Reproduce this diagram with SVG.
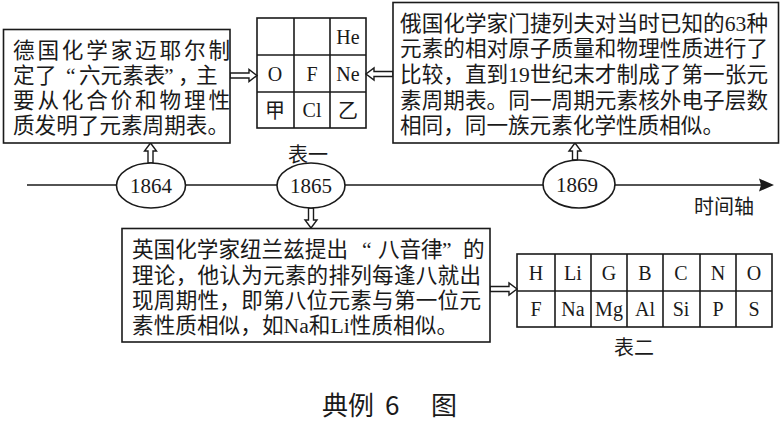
<svg xmlns="http://www.w3.org/2000/svg" width="781" height="424" viewBox="0 0 781 424">
<style>
.box{fill:#fff;stroke:#1a1a1a;stroke-width:1.6}
.cell{fill:none;stroke:#1a1a1a;stroke-width:1.6}
.ell{fill:#fff;stroke:#1a1a1a;stroke-width:1.6}
.t{font-family:"Liberation Serif","Noto Sans CJK SC",serif;font-size:21.6px;fill:#1a1a1a}
.el{font-family:"Liberation Serif","Noto Sans CJK SC",serif;font-size:20px;fill:#1a1a1a;text-anchor:middle}
.yr{font-family:"Liberation Serif",serif;font-size:21px;fill:#1a1a1a;text-anchor:middle}
.lb{font-family:"Noto Sans CJK SC",sans-serif;font-size:20px;fill:#1a1a1a;text-anchor:middle}
.ha{fill:#fff;stroke:#1a1a1a;stroke-width:1.4;stroke-linejoin:miter}
.axis{stroke:#1a1a1a;stroke-width:1.6;fill:none}
.cap{font-family:"Noto Sans CJK SC",sans-serif;font-size:26px;fill:#1a1a1a}
</style>
<rect width="781" height="424" fill="#fff"/>

<g id="connectors">
  <line class="axis" x1="27" y1="185" x2="762" y2="185"/>
  <polygon points="774,185 759,178.5 761,185 759,191.5" fill="#1a1a1a"/>
  <polygon class="ha" points="230,73 249,73 249,69.5 257,75.5 249,81.5 249,78 230,78"/>
  <polygon class="ha" points="393,71.5 374,71.5 374,68 366,74 374,80 374,76.5 393,76.5"/>
  <polygon class="ha" points="148,163 148,151 144.5,151 150.5,143 156.5,151 153,151 153,163"/>
  <polygon class="ha" points="308.5,208 308.5,220 305,220 311,228 317,220 313.5,220 313.5,208"/>
  <polygon class="ha" points="572.5,160 572.5,151 569,151 575,143 581,151 577.5,151 577.5,160"/>
  <polygon class="ha" points="490,286.5 509,286.5 509,283 517,289 509,295 509,291.5 490,291.5"/>
</g>

<g id="node-germany">
  <rect class="box" x="3.5" y="29.5" width="226.5" height="113.5"/>
  <text class="t" x="13" y="58" textLength="217" lengthAdjust="spacing">德国化学家迈耶尔制</text>
  <text class="t" x="13 35 66 79 100.6 122.2 143.8 164 178 196" y="83">定了“六元素表”，主</text>
  <text class="t" x="13" y="108" textLength="217" lengthAdjust="spacing">要从化合价和物理性</text>
  <text class="t" x="13" y="133" textLength="216" lengthAdjust="spacing">质发明了元素周期表。</text>
</g>

<g id="node-table1">
  <rect class="cell" x="257" y="18" width="109" height="110"/>
  <line class="cell" x1="294" y1="18" x2="294" y2="128"/>
  <line class="cell" x1="330" y1="18" x2="330" y2="128"/>
  <line class="cell" x1="257" y1="55" x2="366" y2="55"/>
  <line class="cell" x1="257" y1="92" x2="366" y2="92"/>
  <text class="el" x="348" y="44">He</text>
  <text class="el" x="275" y="81">O</text>
  <text class="el" x="312" y="81">F</text>
  <text class="el" x="348" y="81">Ne</text>
  <text class="el" x="275" y="118">甲</text>
  <text class="el" x="312" y="117">Cl</text>
  <text class="el" x="348" y="118">乙</text>
  <text class="lb" x="308" y="162">表一</text>
</g>

<g id="node-russia">
  <rect class="box" x="393" y="2.5" width="385.5" height="140.5"/>
  <text class="t" x="400" y="31" textLength="368" lengthAdjust="spacing">俄国化学家门捷列夫对当时已知的63种</text>
  <text class="t" x="400" y="56" textLength="368" lengthAdjust="spacing">元素的相对原子质量和物理性质进行了</text>
  <text class="t" x="400" y="82" textLength="368" lengthAdjust="spacing">比较，直到19世纪末才制成了第一张元</text>
  <text class="t" x="400" y="108" textLength="368" lengthAdjust="spacing">素周期表。同一周期元素核外电子层数</text>
  <text class="t" x="400" y="133" textLength="324" lengthAdjust="spacing">相同，同一族元素化学性质相似。</text>
</g>

<g id="node-1864">
  <ellipse class="ell" cx="151" cy="185.5" rx="34.5" ry="22.5"/>
  <text class="yr" x="151" y="193">1864</text>
</g>

<g id="node-1865">
  <ellipse class="ell" cx="311" cy="185.5" rx="34" ry="22.5"/>
  <text class="yr" x="311" y="193">1865</text>
</g>

<g id="node-1869">
  <ellipse class="ell" cx="579" cy="184" rx="36" ry="24"/>
  <text class="yr" x="577" y="192">1869</text>
</g>

<g id="node-axis-label">
  <text class="lb" x="724" y="214">时间轴</text>
</g>

<g id="node-britain">
  <rect class="box" x="122" y="228.5" width="368" height="113.5"/>
  <text class="t" x="132 153.6 175.2 196.8 218.4 240 261.6 283.2 304.8 326.4 362 378 399.5 421 442 463" y="257">英国化学家纽兰兹提出“八音律”的</text>
  <text class="t" x="132" y="283" textLength="349" lengthAdjust="spacing">理论，他认为元素的排列每逢八就出</text>
  <text class="t" x="132" y="308" textLength="349" lengthAdjust="spacing">现周期性，即第八位元素与第一位元</text>
  <text class="t" x="132" y="333" textLength="326" lengthAdjust="spacing">素性质相似，如Na和Li性质相似。</text>
</g>

<g id="node-table2">
  <rect class="cell" x="517" y="254" width="255" height="73"/>
  <line class="cell" x1="517" y1="291" x2="772" y2="291"/>
  <line class="cell" x1="555" y1="254" x2="555" y2="327"/>
  <line class="cell" x1="591" y1="254" x2="591" y2="327"/>
  <line class="cell" x1="627" y1="254" x2="627" y2="327"/>
  <line class="cell" x1="663" y1="254" x2="663" y2="327"/>
  <line class="cell" x1="700" y1="254" x2="700" y2="327"/>
  <line class="cell" x1="736" y1="254" x2="736" y2="327"/>
  <text class="el" x="536" y="279.5">H</text>
  <text class="el" x="573" y="279.5">Li</text>
  <text class="el" x="609" y="279.5">G</text>
  <text class="el" x="645" y="279.5">B</text>
  <text class="el" x="681" y="279.5">C</text>
  <text class="el" x="718" y="279.5">N</text>
  <text class="el" x="754" y="279.5">O</text>
  <text class="el" x="536" y="316">F</text>
  <text class="el" x="573" y="316">Na</text>
  <text class="el" x="609" y="316">Mg</text>
  <text class="el" x="645" y="316">Al</text>
  <text class="el" x="681" y="316">Si</text>
  <text class="el" x="718" y="316">P</text>
  <text class="el" x="754" y="316">S</text>
  <text class="lb" x="634" y="355">表二</text>
</g>

<g id="caption">
  <text class="cap" x="322 348 374 385 400 431" y="415">典例 6 图</text>
</g>
</svg>
